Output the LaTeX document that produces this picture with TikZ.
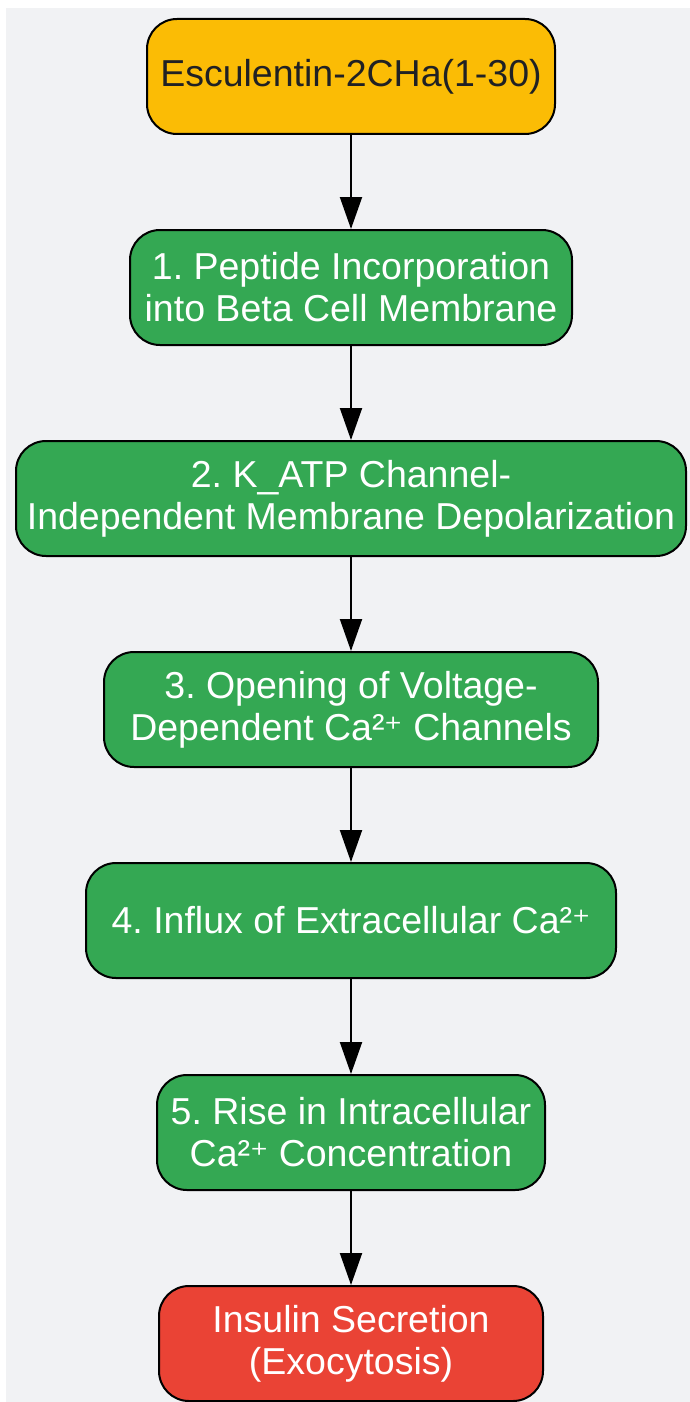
\documentclass[tikz,border=0pt]{standalone}
\usepackage{fontspec}
\setmainfont{Liberation Sans}
\newfontfamily\dvs[Scale=0.92]{DejaVu Sans}
\usetikzlibrary{arrows.meta}
\definecolor{bggray}{HTML}{F1F2F4}
\definecolor{gyellow}{HTML}{FBBC05}
\definecolor{ggreen}{HTML}{34A853}
\definecolor{gred}{HTML}{EA4335}
\definecolor{dtext}{HTML}{202124}
\frenchspacing
\tikzset{
  box/.style={draw=black, line width=2pt, rounded corners=30pt, inner sep=0pt,
    minimum height=115pt, align=center, font=\fontsize{37.5}{42}\selectfont},
  greenbox/.style={box, fill=ggreen, text=white},
  conn/.style={line width=2pt, -{Triangle[length=32pt,width=22pt]}}
}
\newcommand{\casup}{Ca²{\dvs ⁺}}
\begin{document}
\begin{tikzpicture}[x=1pt,y=-1pt]
\useasboundingbox (0,0) rectangle (690,1402);
\fill[white] (0,0) rectangle (690,1402);
\fill[bggray] (6,8) rectangle (690,1402);
\node[box, fill=gyellow, text=dtext, minimum width=408pt] (n0) at (351,76.5) {Esculentin-2CHa(1-30)};
\node[greenbox, minimum width=442pt] (n1) at (351,287.5) {1. Peptide Incorporation\\into Beta Cell Membrane};
\node[greenbox, minimum width=670pt] (n2) at (351,498.5) {2. K\_ATP Channel-\\Independent Membrane Depolarization};
\node[greenbox, minimum width=494pt] (n3) at (351,709.5) {3. Opening of Voltage-\\Dependent \casup{} Channels};
\node[greenbox, minimum width=530pt] (n4) at (351,920.5) {4. Influx of Extracellular \casup};
\node[greenbox, minimum width=388pt] (n5) at (351,1132.5) {5. Rise in Intracellular\\\casup{} Concentration};
\node[box, fill=gred, text=white, minimum width=384pt] (n6) at (351,1343.5) {Insulin Secretion\\(Exocytosis)};
\draw[conn] (n0) -- (n1);
\draw[conn] (n1) -- (n2);
\draw[conn] (n2) -- (n3);
\draw[conn] (n3) -- (n4);
\draw[conn] (n4) -- (n5);
\draw[conn] (n5) -- (n6);
\end{tikzpicture}
\end{document}
